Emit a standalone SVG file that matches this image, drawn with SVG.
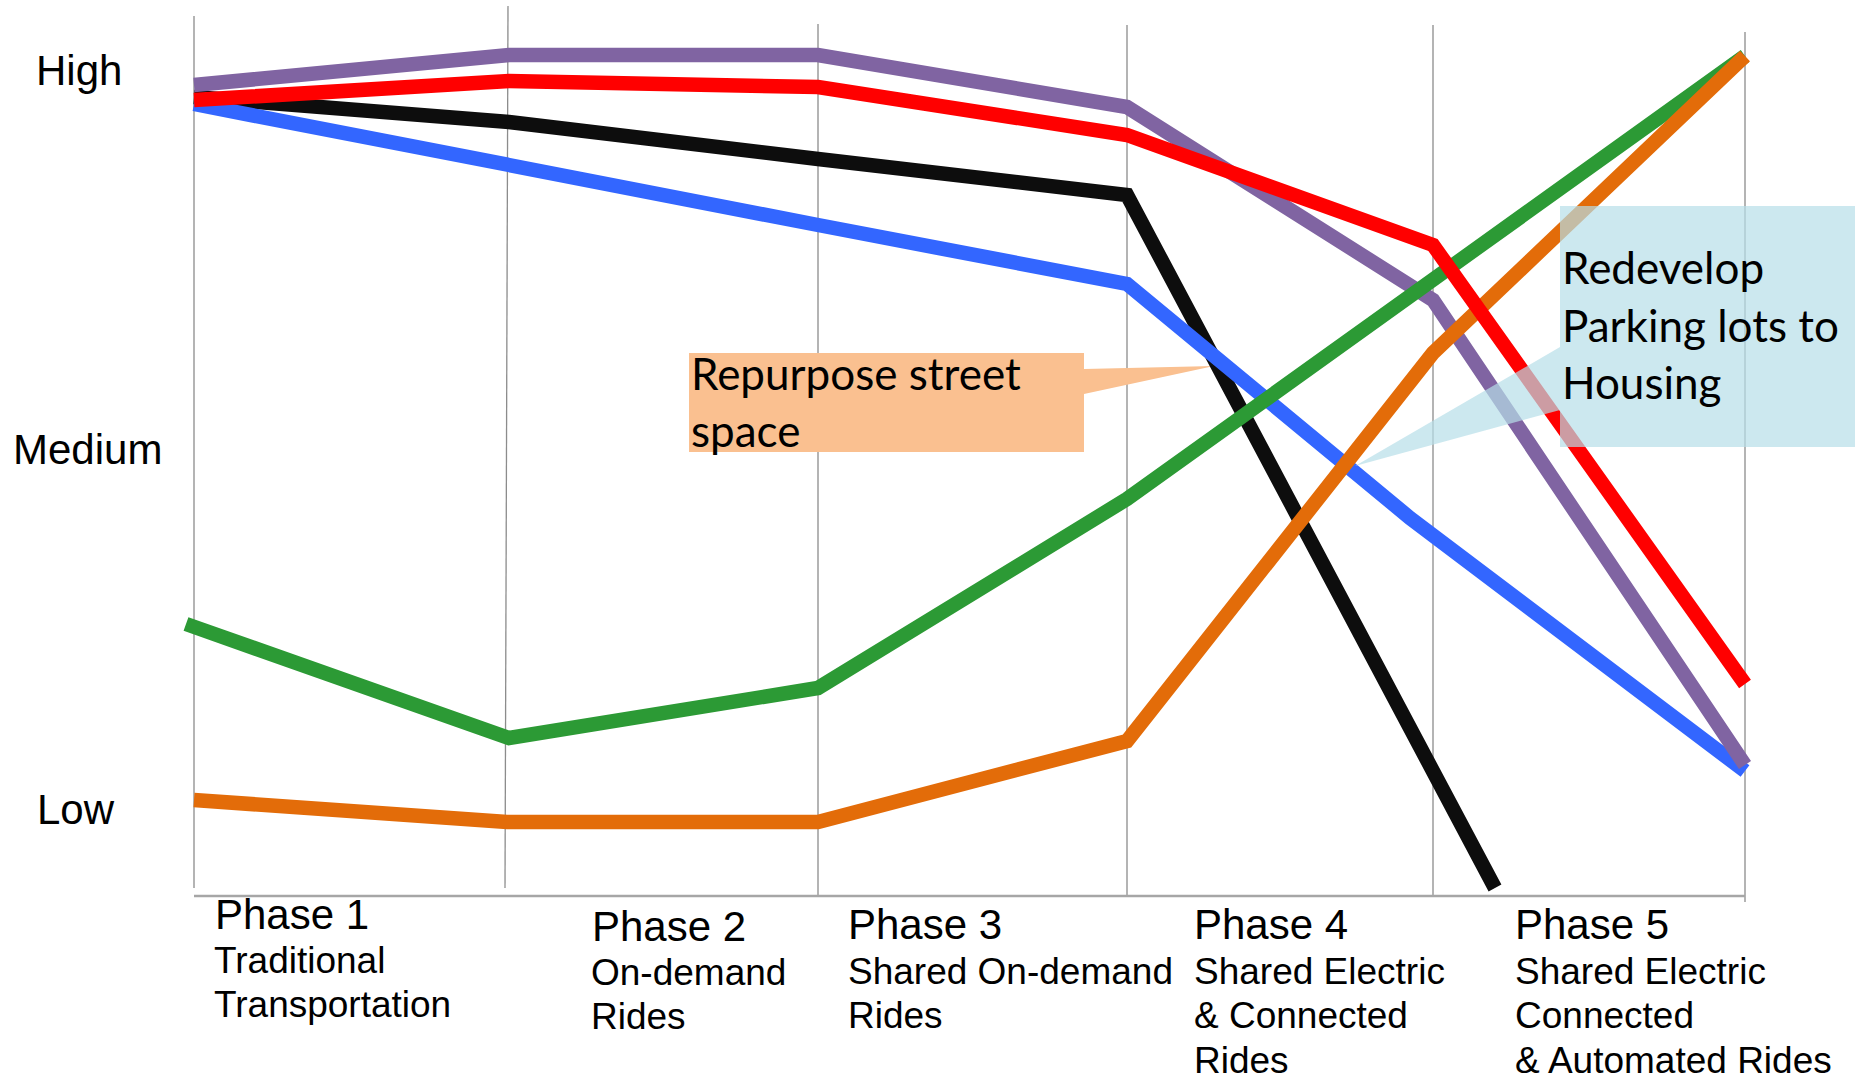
<svg xmlns="http://www.w3.org/2000/svg" width="1855" height="1081" viewBox="0 0 1855 1081">
<style>
.grid{stroke:#8c8c8c;stroke-width:1.3;fill:none}
.axis{stroke:#a6a6a6;stroke-width:2.5;fill:none}
.s{fill:none;stroke-width:14.5;stroke-linejoin:miter;stroke-linecap:butt}
.lvl{font-family:"Liberation Sans",Arial,sans-serif;font-size:42px;fill:#000}
.ph{font-family:"Liberation Sans",Arial,sans-serif;font-size:42px;fill:#000}
.sub{font-family:"Liberation Sans",Arial,sans-serif;font-size:37px;fill:#000}
.call{font-family:Lato,"Open Sans",sans-serif;font-size:44px;fill:#000}
</style>
<rect width="1855" height="1081" fill="#ffffff"/>
<g id="grid">
<line class="grid" x1="194" y1="16" x2="194" y2="888"/>
<line class="grid" x1="508" y1="6" x2="505" y2="888"/>
<line class="grid" x1="818" y1="24" x2="818" y2="896"/>
<line class="grid" x1="1127" y1="25" x2="1127" y2="896"/>
<line class="grid" x1="1433" y1="25" x2="1433" y2="896"/>
<line class="grid" x1="1745" y1="32" x2="1745" y2="902"/>
<line class="axis" x1="194" y1="896" x2="1745" y2="896"/>
</g>
<g id="levels">
<text class="lvl" x="36" y="85">High</text>
<text class="lvl" x="13" y="464">Medium</text>
<text class="lvl" x="37" y="824">Low</text>
</g>
<g id="callout-street">
<path d="M689,353 H1084 V369 L1214,366 L1084,394 V452 H689 Z" fill="#FAC090"/>
<text class="call" x="691" y="390">Repurpose street</text>
<text class="call" x="691" y="447">space</text>
</g>
<g id="connectors">
<polyline id="black" class="s" stroke="#0D0D0D" points="194,97 509,122 818,159 1127,195 1495,888"/>
<polyline id="blue" class="s" stroke="#3366FF" points="194,104 509,165 818,225 1127,284 1410,518 1745,771"/>
<polyline id="purple" class="s" stroke="#8064A2" points="194,85 509,55 818,55 1127,107 1433,300 1745,765"/>
<polyline id="green" class="s" stroke="#2C9A35" points="186,624 509,738 818,688 1127,499 1745,56"/>
<polyline id="orange" class="s" stroke="#E36C09" points="194,800 507,822 818,822 1127,741 1433,353 1745,56"/>
<polyline id="red" class="s" stroke="#FF0000" points="194,100 509,81 818,87 1127,135 1433,245 1745,684"/>
</g>
<g id="callout-parking">
<path d="M1560,206 H1855 V447 H1560 V410 L1355,466 L1560,347 Z" fill="#B7DEE8" fill-opacity="0.7"/>
<text class="call" x="1562" y="284">Redevelop</text>
<text class="call" x="1562" y="342">Parking lots to</text>
<text class="call" x="1562" y="399">Housing</text>
</g>
<g id="phase1">
<text class="ph" x="215" y="929">Phase 1</text>
<text class="sub" x="214" y="973">Traditional</text>
<text class="sub" x="214" y="1017">Transportation</text>
</g>
<g id="phase2">
<text class="ph" x="592" y="941">Phase 2</text>
<text class="sub" x="591" y="985">On-demand</text>
<text class="sub" x="591" y="1029">Rides</text>
</g>
<g id="phase3">
<text class="ph" x="848" y="939">Phase 3</text>
<text class="sub" x="848" y="984">Shared On-demand</text>
<text class="sub" x="848" y="1028">Rides</text>
</g>
<g id="phase4">
<text class="ph" x="1194" y="939">Phase 4</text>
<text class="sub" x="1194" y="984">Shared Electric</text>
<text class="sub" x="1194" y="1028">&amp; Connected</text>
<text class="sub" x="1194" y="1073">Rides</text>
</g>
<g id="phase5">
<text class="ph" x="1515" y="939">Phase 5</text>
<text class="sub" x="1515" y="984">Shared Electric</text>
<text class="sub" x="1515" y="1028">Connected</text>
<text class="sub" x="1515" y="1073">&amp; Automated Rides</text>
</g>
</svg>
